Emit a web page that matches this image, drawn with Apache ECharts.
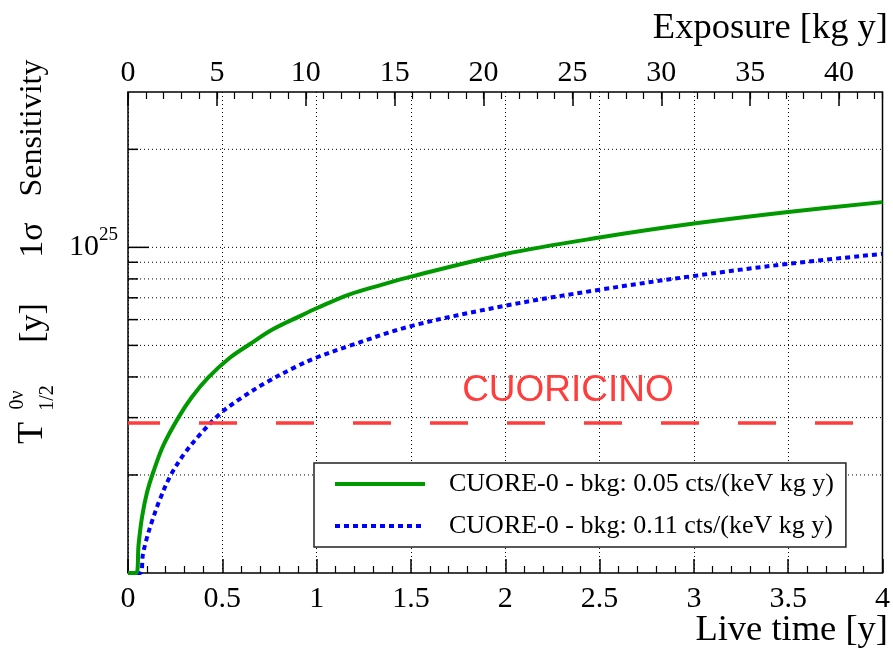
<!DOCTYPE html>
<html>
<head>
<meta charset="utf-8">
<title>CUORE-0 sensitivity</title>
<script src="https://cdn.jsdelivr.net/npm/echarts@6/dist/echarts.min.js"></script>
<style>
  html, body { margin: 0; padding: 0; background: #fff; }
  #chart { width: 893px; height: 652px; }
</style>
</head>
<body>
<div id="chart"></div>
<script>
// 0.05 cts/(keV kg y) curve: live time [y] and sensitivity [y]
const liveTimeLow = [0, 0.044, 0.056, 0.074, 0.1, 0.135, 0.188, 0.267, 0.337, 0.425, 0.54, 0.645, 0.768, 0.909, 1.0, 1.172, 1.348, 1.5, 2.0, 2.5, 3.0, 3.5, 4.0]
const sensLow = [1e24, 1e24, 1.22e24, 1.48e24, 1.76e24, 2.05e24, 2.47e24, 3.0e24, 3.46e24, 3.98e24, 4.58e24, 5.04e24, 5.6e24, 6.14e24, 6.5e24, 7.16e24, 7.68e24, 8.13e24, 9.54e24, 1.072e25, 1.183e25, 1.284e25, 1.377e25]

// 0.11 cts/(keV kg y) curve
const liveTimeHigh = [0, 0.065, 0.079, 0.1, 0.127, 0.167, 0.223, 0.293, 0.381, 0.487, 0.592, 0.733, 0.891, 1.0, 1.172, 1.5, 2.0, 2.5, 3.0, 3.5, 4.0]
const sensHigh = [1e24, 1e24, 1.14e24, 1.28e24, 1.44e24, 1.67e24, 1.98e24, 2.3e24, 2.66e24, 3.08e24, 3.42e24, 3.85e24, 4.3e24, 4.59e24, 4.98e24, 5.73e24, 6.62e24, 7.41e24, 8.17e24, 8.9e24, 9.55e24]

const cuoricinoLimit = 2.9e24
const exposureMax = 42.44 // kg y at 4 y live time
const yMinorGrid = [2e24, 3e24, 4e24, 5e24, 6e24, 7e24, 8e24, 9e24, 2e25]
const yMajorGrid = [1e25]

const nameLow = 'CUORE-0 - bkg: 0.05 cts/(keV kg y)'
const nameHigh = 'CUORE-0 - bkg: 0.11 cts/(keV kg y)'

const serif = 'Liberation Serif'

const chart = echarts.init(document.getElementById('chart'))

// horizontal dotted grid line + inward tick on the left frame
function gridRenderer (tickLen) {
  return function (params, api) {
    const cs = params.coordSys
    const y = api.coord([0, api.value(1)])[1]
    return {
      type: 'group',
      children: [
        { type: 'line', shape: { x1: cs.x, y1: y, x2: cs.x + cs.width, y2: y }, style: { stroke: '#000', lineWidth: 1, lineDash: [1, 3] } },
        { type: 'line', shape: { x1: cs.x, y1: y, x2: cs.x + tickLen, y2: y }, style: { stroke: '#000', lineWidth: 1.5 } }
      ]
    }
  }
}

function yText (text, x, y, size) {
  return {
    type: 'text',
    x: x,
    y: y,
    z: 10,
    rotation: Math.PI / 2,
    style: { text: text, font: size + 'px "' + serif + '"', fill: '#000', align: 'center', verticalAlign: 'middle', textAlign: 'center', textVerticalAlign: 'middle' }
  }
}

function titleText (text, x, y) {
  return {
    type: 'text',
    x: x,
    y: y,
    z: 10,
    style: { text: text, font: '36.5px "' + serif + '"', fill: '#000', align: 'right', verticalAlign: 'middle', textAlign: 'right', textVerticalAlign: 'middle' }
  }
}

const option = {
  animation: false,
  backgroundColor: '#fff',
  grid: { left: 128, right: 7, top: 92, bottom: 79, show: true, borderColor: '#000', borderWidth: 1.5, backgroundColor: 'transparent' },
  xAxis: [
    {
      type: 'value',
      position: 'bottom',
      min: 0,
      max: 4,
      interval: 0.5,
      axisLine: { show: false },
      axisTick: { inside: true, length: 14, lineStyle: { color: '#000', width: 1.5 } },
      minorTick: { show: true, splitNumber: 5, length: 7, lineStyle: { color: '#000', width: 1.2 } },
      splitLine: { show: true, lineStyle: { color: '#000', width: 1, type: [1, 3] } },
      axisLabel: { margin: 11, color: '#000', fontFamily: serif, fontSize: 30 }
    },
    {
      type: 'value',
      position: 'top',
      min: 0,
      max: exposureMax,
      interval: 5,
      axisLine: { show: false },
      axisTick: { inside: true, length: 14, lineStyle: { color: '#000', width: 1.5 } },
      splitLine: { show: false },
      axisLabel: { margin: 4, color: '#000', fontFamily: serif, fontSize: 30, showMaxLabel: false }
    },
    {
      type: 'value',
      position: 'top',
      min: 0,
      max: exposureMax,
      interval: 1,
      axisLine: { show: false },
      axisTick: { inside: true, length: 7, lineStyle: { color: '#000', width: 1.2 } },
      splitLine: { show: false },
      axisLabel: { show: false }
    }
  ],
  yAxis: {
    type: 'log',
    logBase: 10,
    min: 1e24,
    max: 3e25,
    axisLine: { show: false },
    axisTick: { show: false },
    splitLine: { show: false },
    axisLabel: {
      margin: 10,
      formatter: function (v) {
        return Math.abs(Math.log10(v) - 25) < 1e-6 ? '{b|10}{s|25}' : ''
      },
      rich: {
        b: { fontFamily: serif, fontSize: 30, lineHeight: 44, color: '#000' },
        s: { fontFamily: serif, fontSize: 19, lineHeight: 19, verticalAlign: 'top', color: '#000' }
      }
    }
  },
  legend: {
    data: [
      { name: nameLow, itemStyle: { opacity: 0 } },
      { name: nameHigh, itemStyle: { opacity: 0 } }
    ],
    orient: 'vertical',
    left: 314,
    top: 463,
    padding: [7, 12, 7, 19],
    itemWidth: 90,
    itemHeight: 14,
    itemGap: 14,
    align: 'left',
    selectedMode: false,
    backgroundColor: '#fff',
    borderColor: '#222',
    borderWidth: 1.5,
    borderRadius: 0,
    lineStyle: { width: 4 },
    textStyle: { fontFamily: serif, fontSize: 26, color: '#000', lineHeight: 28, padding: [0, 0, 0, 19] }
  },
  series: [
    {
      type: 'custom',
      silent: true,
      z: 1,
      renderItem: gridRenderer(10),
      encode: { x: 0, y: 1 },
      data: yMinorGrid.map(v => [0, v])
    },
    {
      type: 'custom',
      silent: true,
      z: 1,
      renderItem: gridRenderer(21),
      encode: { x: 0, y: 1 },
      data: yMajorGrid.map(v => [0, v])
    },
    {
      name: nameHigh,
      type: 'line',
      symbol: 'none',
      showSymbol: false,
      smooth: 0.35,
      z: 3,
      lineStyle: { color: '#0000ff', width: 4, type: [5, 4] },
      itemStyle: { color: '#0000ff' },
      data: liveTimeHigh.map((t, i) => [t, sensHigh[i]])
    },
    {
      name: nameLow,
      type: 'line',
      symbol: 'none',
      showSymbol: false,
      smooth: 0.35,
      z: 4,
      lineStyle: { color: '#009900', width: 4 },
      itemStyle: { color: '#009900' },
      data: liveTimeLow.map((t, i) => [t, sensLow[i]]),
      markLine: {
        silent: true,
        symbol: 'none',
        label: { show: false },
        lineStyle: { color: '#ff3d3d', width: 3.5, type: [38, 39], dashOffset: 6 },
        data: [{ yAxis: cuoricinoLimit }]
      }
    }
  ],
  graphic: [
    titleText('Exposure [kg y]', 888, 28),
    titleText('Live time [y]', 888, 630),
    { type: 'text', x: 568, y: 391, z: 10, style: { text: 'CUORICINO', font: '37px "Liberation Sans"', fill: '#ff3d3d', align: 'center', verticalAlign: 'middle', textAlign: 'center', textVerticalAlign: 'middle' } },
    yText('T', 33, 433, 36),
    yText('0ν', 18, 400, 20),
    yText('1/2', 48, 398, 20),
    yText('[y]', 33, 323, 34),
    yText('1σ', 33, 240, 34),
    yText('Sensitivity', 33, 128, 32)
  ]
}

chart.setOption(option)
</script>
</body>
</html>
